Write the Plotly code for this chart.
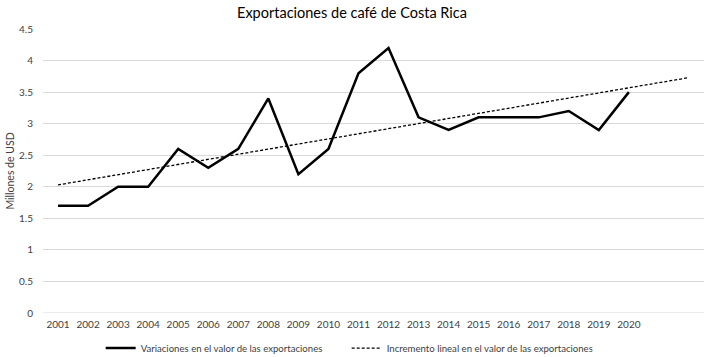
import plotly.graph_objects as go

years = [2001, 2002, 2003, 2004, 2005, 2006, 2007, 2008, 2009, 2010,
         2011, 2012, 2013, 2014, 2015, 2016, 2017, 2018, 2019, 2020]
values = [1.7, 1.7, 2.0, 2.0, 2.6, 2.3, 2.6, 3.4, 2.2, 2.6,
          3.8, 4.2, 3.1, 2.9, 3.1, 3.1, 3.1, 3.2, 2.9, 3.5]
trend_years = [2001, 2022]
trend_values = [2.03, 3.73]
y_ticks = [0, 0.5, 1, 1.5, 2, 2.5, 3, 3.5, 4, 4.5]

title = "Exportaciones de café de Costa Rica"
name_main = "Variaciones en el valor de las exportaciones"
name_trend = "Incremento lineal en el valor de las exportaciones"

font = "Lato, Open Sans, sans-serif"

fig = go.Figure()
fig.add_trace(go.Scatter(x=years, y=values, mode="lines", name=name_main,
                         line=dict(color="black", width=2.5)))
fig.add_trace(go.Scatter(x=trend_years, y=trend_values, mode="lines", name=name_trend,
                         line=dict(color="black", width=1.3, dash="3px,2px")))

fig.update_layout(
    width=704, height=357,
    margin=dict(l=43, r=0, t=29, b=44),
    paper_bgcolor="white", plot_bgcolor="white",
    title=dict(text=title, x=0.5, xanchor="center", y=0.965, yanchor="middle",
               font=dict(family=font, size=14.5, color="black")),
    font=dict(family=font, color="#404040"),
    showlegend=True,
    legend=dict(orientation="h", x=0.143, xref="container", xanchor="left",
                y=0.025, yref="container", yanchor="middle",
                font=dict(size=9.6, color="#404040"), itemwidth=30,
                entrywidth=201, entrywidthmode="pixels", bgcolor="rgba(0,0,0,0)"),
)
fig.update_xaxes(range=[2000.5, 2022.5], tickmode="array", tickvals=years,
                 ticktext=[str(y) for y in years], showgrid=False, zeroline=False,
                 showline=False, ticks="", tickfont=dict(size=10, color="#404040"),
                 ticklabelstandoff=4)
fig.update_yaxes(range=[0, 4.5], tickmode="array", tickvals=y_ticks,
                 ticktext=[str(v) for v in y_ticks], showgrid=True, gridcolor="#d9d9d9",
                 gridwidth=1, zeroline=False, showline=False, ticks="",
                 tickfont=dict(size=10, color="#404040"), ticklabelstandoff=9,
                 title=dict(text="Millones de USD", font=dict(size=10.5, color="#404040"),
                            standoff=2))
fig.add_hline(y=0, line=dict(color="#d9d9d9", width=1), layer="below")

fig.write_html("out.html", config={"displayModeBar": False},
               post_script="document.body.style.margin='0';document.body.style.overflow='hidden';")
